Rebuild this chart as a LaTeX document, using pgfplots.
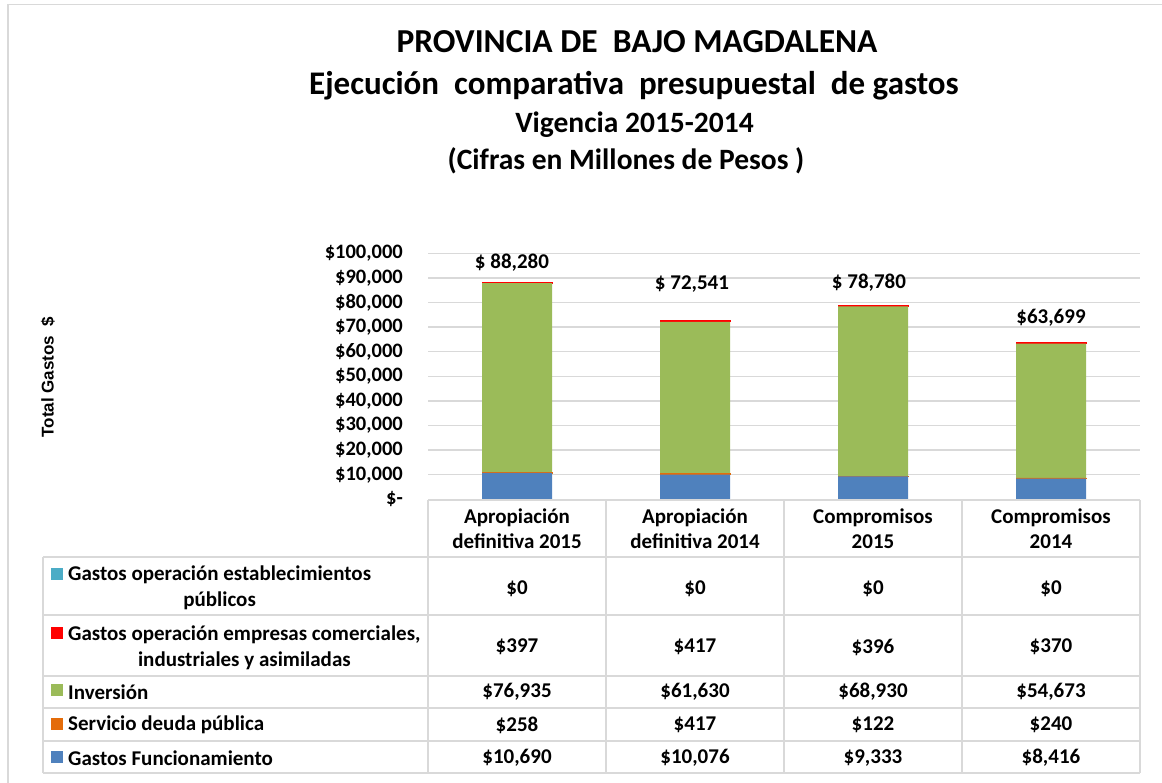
\documentclass[border=0pt]{standalone}
\usepackage{fontspec}
\setmainfont{Carlito}
\newfontfamily\arialfont{Liberation Sans}
\usepackage{pgfplots}
\pgfplotsset{compat=1.18}

\definecolor{cBlue}{HTML}{4F81BD}
\definecolor{cOrange}{HTML}{E46C0A}
\definecolor{cGreen}{HTML}{9BBB59}
\definecolor{cRed}{HTML}{FF0000}
\definecolor{cTeal}{HTML}{4BACC6}
\definecolor{cGrid}{HTML}{D9D9D9}

\newcommand\F[2]{\fontsize{#1}{#2}\selectfont\bfseries}

\begin{document}
\begin{tikzpicture}[x=1pt,y=1pt]
\useasboundingbox (0,0) rectangle (1162,783);
% chart border
\draw[cGrid, line width=1.5pt] (8,0) -- (8,778.5) -- (1162,778.5);
% titles
\node[anchor=base, inner sep=0] at (637,730) {\F{33.5}{40}PROVINCIA DE\ \ BAJO MAGDALENA};
\node[anchor=base, inner sep=0] at (634,688) {\F{33}{40}Ejecución\ \ comparativa\ \ presupuestal\ \ de gastos};
\node[anchor=base, inner sep=0] at (634.5,650) {\F{29.5}{34}Vigencia 2015-2014};
\node[anchor=base, inner sep=0] at (626,613) {\F{29.5}{34}(Cifras en Millones de Pesos )};
% y label
\node[rotate=90, inner sep=0, font=\arialfont\bfseries\fontsize{17}{20}\selectfont] at (48,406) {Total Gastos\ \ \$};

\begin{axis}[
  at={(428pt,283.7pt)}, anchor=south west,
  width=712pt, height=246pt, scale only axis,
  xmin=-0.5, xmax=3.5, ymin=0, ymax=100000,
  scaled y ticks=false,
  ybar stacked, bar width=70pt,
  axis line style={draw=none}, tick style={draw=none},
  major tick length=0pt,
  ymajorgrids, grid style={cGrid, line width=1.3pt},
  ytick={0,10000,20000,30000,40000,50000,60000,70000,80000,90000,100000},
  yticklabels={\$-,\$10{,}000,\$20{,}000,\$30{,}000,\$40{,}000,\$50{,}000,\$60{,}000,\$70{,}000,\$80{,}000,\$90{,}000,\$100{,}000},
  yticklabel style={font=\F{20.5}{24}, inner sep=0pt, anchor=east, xshift=-25pt},
  xtick={0,1,2,3},
  xticklabels={{Apropiación\\definitiva 2015},{Apropiación\\definitiva 2014},{Compromisos\\2015},{Compromisos\\2014}},
  xticklabel style={font=\F{21}{25}, align=center, anchor=center, inner sep=0pt, yshift=-29.5pt},
  clip=false,
]
\addplot+[fill=cBlue, draw=none, mark=none] coordinates {(0,10690) (1,10076) (2,9333) (3,8416)};
\addplot+[fill=cOrange, draw=cOrange, line width=0.6pt, mark=none] coordinates {(0,258) (1,417) (2,122) (3,240)};
\addplot+[fill=cGreen, draw=none, mark=none] coordinates {(0,76935) (1,61630) (2,68930) (3,54673)};
\addplot+[fill=cRed, draw=cRed, line width=1pt, mark=none] coordinates {(0,397) (1,417) (2,396) (3,370)};
\addplot+[fill=cTeal, draw=none, mark=none] coordinates {(0,0) (1,0) (2,0) (3,0)};
\node[font=\F{21}{24}, xshift=-5pt] at (axis cs:0,96060) {\$ 88,280};
\node[font=\F{21}{24}, xshift=-3pt] at (axis cs:1,87520) {\$ 72,541};
\node[font=\F{21}{24}, xshift=-4pt] at (axis cs:2,88130) {\$ 78,780};
\node[font=\F{21}{24}] at (axis cs:3,73700) {\$63,699};
\end{axis}

% data table grid
\begin{scope}[cGrid, line width=1.5pt]
\draw (428,283) -- (1140,283);
\foreach \yy in {226,168,107,75,42,10} \draw (43,\yy) -- (1140,\yy);
\foreach \xx in {428,606,784,962,1140} \draw (\xx,283) -- (\xx,10);
\draw (43,226) -- (43,10);
\end{scope}
% legend keys
\fill[cTeal] (51,203) rectangle (63,215);
\fill[cRed] (51,144) rectangle (63,156);
\fill[cGreen] (51,87) rectangle (63,99);
\fill[cOrange] (51,53) rectangle (63,65);
\fill[cBlue] (51,20) rectangle (63,32);
% row labels
\begin{scope}[every node/.style={anchor=west, inner sep=0pt, align=center, font=\F{21}{26}}]
\node at (68,195) {Gastos operación establecimientos\\públicos};
\node at (68,135) {Gastos operación empresas comerciales,\\industriales y asimiladas};
\node at (68,91) {Inversión};
\node at (68,58) {Servicio deuda pública};
\node at (68,25) {Gastos Funcionamiento};
\end{scope}
% values
\begin{scope}[every node/.style={anchor=center, inner sep=0pt, font=\F{21}{24}}]
\node at (517,194) {\$0};    \node at (695,194) {\$0};    \node at (873,194) {\$0};    \node at (1051,194) {\$0};
\node at (517,136) {\$397};  \node at (695,136) {\$417};  \node at (873,136) {\$396};  \node at (1051,136) {\$370};
\node at (517,91) {\$76,935}; \node at (695,91) {\$61,630}; \node at (873,91) {\$68,930}; \node at (1051,91) {\$54,673};
\node at (517,58) {\$258};   \node at (695,58) {\$417};   \node at (873,58) {\$122};   \node at (1051,58) {\$240};
\node at (517,25) {\$10,690}; \node at (695,25) {\$10,076}; \node at (873,25) {\$9,333}; \node at (1051,25) {\$8,416};
\end{scope}
\end{tikzpicture}
\end{document}
